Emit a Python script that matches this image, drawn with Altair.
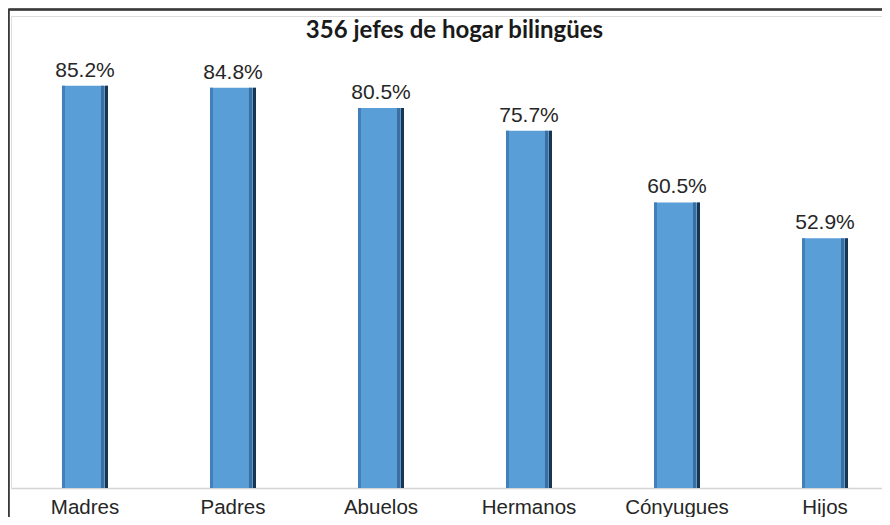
import altair as alt
import pandas as pd

categorias = ["Madres", "Padres", "Abuelos", "Hermanos", "Cónyugues", "Hijos"]
valores = [85.2, 84.8, 80.5, 75.7, 60.5, 52.9]
etiquetas = ["85.2%", "84.8%", "80.5%", "75.7%", "60.5%", "52.9%"]
titulo = "356 jefes de hogar bilingües"

df = pd.DataFrame({"cat": categorias, "val": valores, "lab": etiquetas})

W, H = 871, 472

xenc = alt.X(
    "cat:N",
    sort=categorias,
    title=None,
    scale=alt.Scale(paddingInner=0.689, paddingOuter=0.287, align=0.6),
    axis=alt.Axis(
        labelAngle=0,
        labelFont="Liberation Sans",
        labelFontSize=20.5,
        labelColor="#262626",
        labelPadding=9,
        ticks=False,
        domainColor="#d4d4d4",
        domainWidth=1.5,
        grid=False,
    ),
)
yenc = alt.Y("val:Q", scale=alt.Scale(domain=[0, 100], nice=False), axis=None)

base = alt.Chart(df)

bars = base.mark_bar(color="#5a9ed8").encode(x=xenc, y=yenc)
edge_l = base.mark_bar(color="#447fba", width=3, xOffset=-21.5).encode(x=xenc, y=yenc)
edge_r1 = base.mark_bar(color="#3b6f9f", width=3, xOffset=17.5).encode(x=xenc, y=yenc)
edge_r2 = base.mark_bar(color="#1b3550", width=3, xOffset=21.5).encode(x=xenc, y=yenc)

labels = base.mark_text(
    baseline="alphabetic", dy=-9, font="Liberation Sans", fontSize=21, color="#262626"
).encode(x=xenc, y=yenc, text="lab:N")

frame_left = base.mark_rule(color="#3a3a3a", strokeWidth=1.5).encode(
    x=alt.value(-2.5), y=alt.value(-6.5), y2=alt.value(H + 40)
)
frame_top = base.mark_rule(color="#3a3a3a", strokeWidth=1.5).encode(
    x=alt.value(-2.5), x2=alt.value(W + 20), y=alt.value(-6.5)
)

chart = (
    alt.layer(bars, edge_l, edge_r1, edge_r2, labels, frame_left, frame_top)
    .properties(
        width=W,
        height=H,
        autosize=alt.AutoSizeParams(type="none"),
        padding={"left": 3, "top": 8, "right": 0, "bottom": 29},
        title=alt.TitleParams(
            text=titulo,
            font="Lato",
            fontWeight="bold",
            fontSize=24,
            color="#1a1a1a",
            anchor="middle",
            baseline="alphabetic",
            offset=0,
            dy=53,
            dx=8,
        ),
    )
    .configure_view(stroke=None)
    .configure(background="white")
)

chart.save("out.html", embed_options={"renderer": "svg", "actions": False})
